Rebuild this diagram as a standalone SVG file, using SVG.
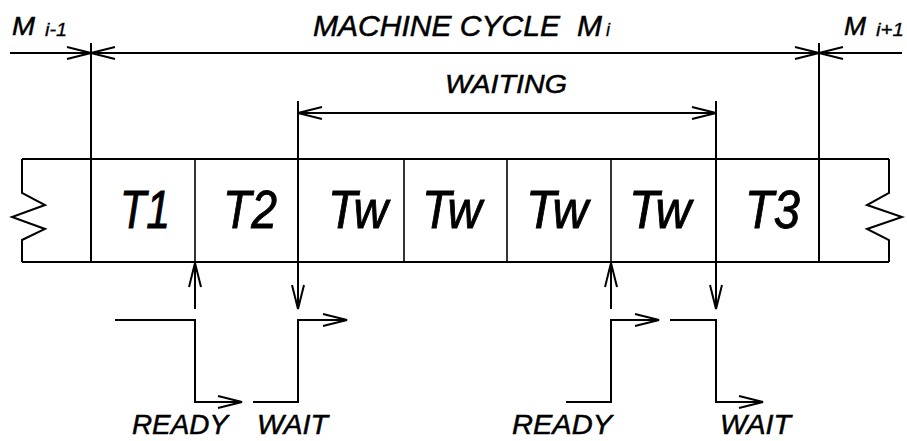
<svg xmlns="http://www.w3.org/2000/svg" width="907" height="441" viewBox="0 0 907 441">
<defs>
<marker id="arr" markerUnits="userSpaceOnUse" markerWidth="30" markerHeight="16" refX="24" refY="6" orient="auto-start-reverse" viewBox="-2 -2 30 16">
<path d="M0,0 L24,6 L0,12" fill="none" stroke="#000" stroke-width="2"/>
</marker>
<style>
.ln{fill:none;stroke:#000;stroke-width:2}
.thin{fill:none;stroke:#000;stroke-width:1.6}
.t{font-family:"Liberation Sans",Arial,sans-serif;font-style:italic;fill:#000;stroke:#000;stroke-width:0.5}
.big{font-size:26px}
.title{font-size:29px}
.cell{font-size:53px;stroke-width:0.9}
.sub{font-size:18px;stroke-width:0.3}
.sig{font-size:28px}
</style>
</defs>
<rect width="907" height="441" fill="#fff"/>

<g id="frame">
<path class="ln" d="M22,159 H889 M22,262 H889"/>
<path class="ln" d="M22,159 V193 L45,205 L12,217 L45,229 L22,240 V262"/>
<path class="ln" d="M889,159 V193 L867,205 L902,217 L867,229 L889,240 V262"/>
</g>

<g id="cell-T1"><text class="t cell" x="120" y="228" textLength="50" lengthAdjust="spacingAndGlyphs">T1</text></g>
<g id="cell-T2"><text class="t cell" x="223" y="228" textLength="54" lengthAdjust="spacingAndGlyphs">T2</text></g>
<g id="cell-Tw1"><text class="t cell" x="328" y="228" textLength="60" lengthAdjust="spacingAndGlyphs">Tw</text></g>
<g id="cell-Tw2"><text class="t cell" x="422" y="228" textLength="60" lengthAdjust="spacingAndGlyphs">Tw</text></g>
<g id="cell-Tw3"><text class="t cell" x="526" y="228" textLength="62" lengthAdjust="spacingAndGlyphs">Tw</text></g>
<g id="cell-Tw4"><text class="t cell" x="629" y="228" textLength="62" lengthAdjust="spacingAndGlyphs">Tw</text></g>
<g id="cell-T3"><text class="t cell" x="745" y="228" textLength="55" lengthAdjust="spacingAndGlyphs">T3</text></g>

<g id="label-Mprev"><text class="t big" x="12" y="35" textLength="23" lengthAdjust="spacingAndGlyphs">M</text><text class="t sub" x="45" y="36" textLength="22" lengthAdjust="spacingAndGlyphs">i-1</text></g>
<g id="label-cycle"><text class="t title" x="313" y="36" textLength="247" lengthAdjust="spacingAndGlyphs">MACHINE CYCLE</text><text class="t title" x="577" y="36" textLength="25" lengthAdjust="spacingAndGlyphs">M</text><text class="t sub" x="606" y="36">i</text></g>
<g id="label-Mnext"><text class="t big" x="844" y="35" textLength="22" lengthAdjust="spacingAndGlyphs">M</text><text class="t sub" x="876" y="36" textLength="28" lengthAdjust="spacingAndGlyphs">i+1</text></g>
<g id="label-waiting"><text class="t big" x="445" y="93" textLength="122" lengthAdjust="spacingAndGlyphs">WAITING</text></g>
<g id="label-ready1"><text class="t sig" x="132" y="434" textLength="96" lengthAdjust="spacingAndGlyphs">READY</text></g>
<g id="label-wait1"><text class="t sig" x="257" y="434" textLength="71" lengthAdjust="spacingAndGlyphs">WAIT</text></g>
<g id="label-ready2"><text class="t sig" x="512" y="434" textLength="100" lengthAdjust="spacingAndGlyphs">READY</text></g>
<g id="label-wait2"><text class="t sig" x="720" y="434" textLength="71" lengthAdjust="spacingAndGlyphs">WAIT</text></g>

<g id="connectors">
<line class="ln" x1="10" y1="53" x2="91" y2="53" marker-end="url(#arr)"/>
<line class="ln" x1="91" y1="53" x2="819" y2="53" marker-start="url(#arr)" marker-end="url(#arr)"/>
<line class="ln" x1="819" y1="53" x2="902" y2="53" marker-start="url(#arr)"/>
<line class="ln" x1="298" y1="113" x2="716" y2="113" marker-start="url(#arr)" marker-end="url(#arr)"/>
<line class="ln" x1="91" y1="43" x2="91" y2="262"/>
<line class="ln" x1="819" y1="43" x2="819" y2="262"/>
<line class="thin" x1="195" y1="159" x2="195" y2="262"/>
<line class="thin" x1="404" y1="159" x2="404" y2="262"/>
<line class="thin" x1="507" y1="159" x2="507" y2="262"/>
<line class="thin" x1="611" y1="159" x2="611" y2="262"/>
<line class="ln" x1="298" y1="101" x2="298" y2="309" marker-end="url(#arr)"/>
<line class="ln" x1="716" y1="101" x2="716" y2="309" marker-end="url(#arr)"/>
<line class="ln" x1="195" y1="309" x2="195" y2="263" marker-end="url(#arr)"/>
<line class="ln" x1="611" y1="309" x2="611" y2="263" marker-end="url(#arr)"/>
<path class="ln" d="M115,320 H195 V402 H242" marker-end="url(#arr)"/>
<path class="ln" d="M253,402 H298 V320 H347" marker-end="url(#arr)"/>
<path class="ln" d="M566,402 H611 V320 H659" marker-end="url(#arr)"/>
<path class="ln" d="M670,320 H716 V402 H763" marker-end="url(#arr)"/>
</g>
</svg>
